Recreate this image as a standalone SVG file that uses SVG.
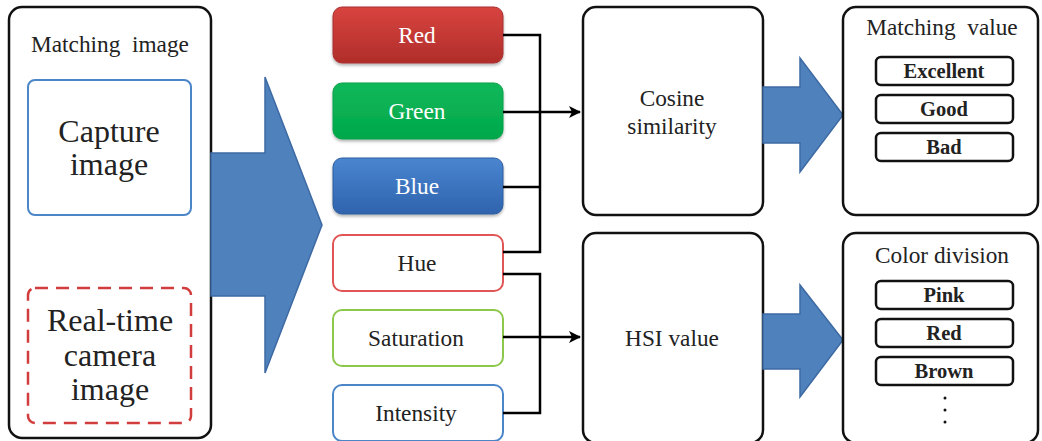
<svg xmlns="http://www.w3.org/2000/svg" width="1042" height="441" viewBox="0 0 1042 441" font-family="Liberation Serif">
<style>
text{text-anchor:middle;fill:#222;white-space:pre}
.big{fill:#fff;stroke:#111;stroke-width:2.5}
.item{fill:#fff;stroke:#111;stroke-width:2.5}
.bold{font-weight:bold;font-size:20.5px}
.t22{font-size:23.3px}
.t31{font-size:32px}
.white{fill:#fff}
.fat{fill:#4f81bd;stroke:#3d6aa3;stroke-width:1.5}
.conn{fill:none;stroke:#000;stroke-width:2.5}
</style>
<defs>
<linearGradient id="gr" x1="0" y1="0" x2="0" y2="1"><stop offset="0" stop-color="#d8443f"/><stop offset="1" stop-color="#b02d2a"/></linearGradient>
<linearGradient id="gg" x1="0" y1="0" x2="0" y2="1"><stop offset="0" stop-color="#0cb85a"/><stop offset="1" stop-color="#03a84a"/></linearGradient>
<linearGradient id="gb" x1="0" y1="0" x2="0" y2="1"><stop offset="0" stop-color="#4a85d0"/><stop offset="1" stop-color="#2f63ad"/></linearGradient>
<filter id="sh" x="-10%" y="-10%" width="120%" height="130%"><feDropShadow dx="0" dy="2" stdDeviation="1.5" flood-color="#000" flood-opacity="0.3"/></filter>
<marker id="ah" markerWidth="12" markerHeight="12" refX="11" refY="6" orient="auto" markerUnits="userSpaceOnUse"><path d="M0,0 L12,6 L0,12 L3,6 Z" fill="#000"/></marker>
</defs>

<g id="matching-image">
<rect class="big" x="9" y="7" width="202" height="431" rx="13"/>
<text class="t22" x="110" y="52">Matching  image</text>
</g>
<g id="capture-image">
<rect x="28" y="80" width="163" height="135" rx="7" fill="#fff" stroke="#4a86c8" stroke-width="2"/>
<text class="t31" x="109" y="142">Capture</text>
<text class="t31" x="109" y="175">image</text>
</g>
<g id="realtime-image">
<rect x="28" y="288" width="163" height="135" rx="7" fill="#fff" stroke="#d13c3c" stroke-width="2.5" stroke-dasharray="13,8"/>
<text class="t31" x="110" y="331">Real-time</text>
<text class="t31" x="110" y="366">camera</text>
<text class="t31" x="110" y="400">image</text>
</g>
<g id="big-arrow">
<path class="fat" d="M211,153 L265,153 L265,77 L322,225 L265,373 L265,296 L211,296 Z"/>
</g>

<g id="red"><rect x="333" y="7" width="170" height="56" rx="9" fill="url(#gr)" stroke="#a83030" stroke-width="1" filter="url(#sh)"/><text class="t22 white" x="417" y="43">Red</text></g>
<g id="green"><rect x="333" y="83" width="170" height="56" rx="9" fill="url(#gg)" stroke="#08a048" stroke-width="1" filter="url(#sh)"/><text class="t22 white" x="417" y="119">Green</text></g>
<g id="blue"><rect x="333" y="158" width="170" height="56" rx="9" fill="url(#gb)" stroke="#2d5e9e" stroke-width="1" filter="url(#sh)"/><text class="t22 white" x="417" y="194">Blue</text></g>
<g id="hue"><rect x="333" y="235" width="170" height="56" rx="9" fill="#fff" stroke="#e05555" stroke-width="2"/><text class="t22" x="417" y="271">Hue</text></g>
<g id="saturation"><rect x="333" y="310" width="170" height="56" rx="9" fill="#fff" stroke="#8cc84b" stroke-width="2"/><text class="t22" x="416" y="346">Saturation</text></g>
<g id="intensity"><rect x="333" y="385" width="170" height="56" rx="9" fill="#fff" stroke="#4a86c8" stroke-width="2"/><text class="t22" x="416" y="421">Intensity</text></g>

<g id="connectors">
<path class="conn" d="M503,35 H540 V252 H503 M503,187 H540"/>
<path class="conn" d="M503,112 H580" marker-end="url(#ah)"/>
<path class="conn" d="M503,274 H540 V413 H503"/>
<path class="conn" d="M503,337 H580" marker-end="url(#ah)"/>
</g>

<g id="cosine">
<rect class="big" x="583" y="7" width="180" height="208" rx="13"/>
<text class="t22" x="672" y="106">Cosine</text>
<text class="t22" x="672" y="134">similarity</text>
</g>
<g id="hsi">
<rect class="big" x="583" y="233" width="180" height="210" rx="13"/>
<text class="t22" x="672" y="346">HSI value</text>
</g>
<g id="arrow-top"><path class="fat" d="M763,87 L800,87 L800,58 L843,115 L800,172 L800,143 L763,143 Z"/></g>
<g id="arrow-bottom"><path class="fat" d="M763,314 L800,314 L800,285 L843,340 L800,397 L800,369 L763,369 Z"/></g>

<g id="matching-value">
<rect class="big" x="843" y="7" width="195" height="208" rx="13"/>
<text class="t22" x="942" y="35">Matching  value</text>
<rect class="item" x="876" y="57" width="137" height="28" rx="5"/><text class="bold" x="944" y="78">Excellent</text>
<rect class="item" x="876" y="95" width="137" height="28" rx="5"/><text class="bold" x="944" y="116">Good</text>
<rect class="item" x="876" y="133" width="137" height="28" rx="5"/><text class="bold" x="944" y="154">Bad</text>
</g>
<g id="color-division">
<rect class="big" x="843" y="233" width="195" height="210" rx="13"/>
<text class="t22" x="942" y="263">Color division</text>
<rect class="item" x="876" y="281" width="137" height="28" rx="5"/><text class="bold" x="944" y="302">Pink</text>
<rect class="item" x="876" y="319" width="137" height="28" rx="5"/><text class="bold" x="944" y="340">Red</text>
<rect class="item" x="876" y="357" width="137" height="28" rx="5"/><text class="bold" x="944" y="378">Brown</text>
<circle cx="945" cy="398" r="1.5" fill="#111"/>
<circle cx="945" cy="410" r="1.5" fill="#111"/>
<circle cx="945" cy="422" r="1.5" fill="#111"/>
</g>
</svg>
